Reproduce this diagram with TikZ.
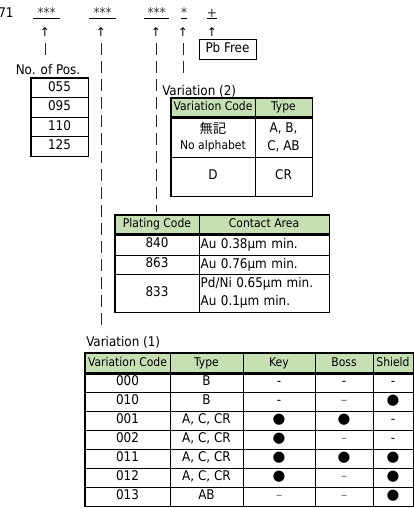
\documentclass[tikz,border=0pt]{standalone}
\usepackage{fontspec}
\setmainfont{DejaVu Sans Condensed}
\newfontfamily\cjkfont{Noto Sans CJK JP}
\newfontfamily\symfont{DejaVu Sans}
\definecolor{hdr}{HTML}{C6E0B4}
\newcommand\Cell[7]{\node[#6, minimum width={(#4-#2)*0.75pt}, minimum height={(#5-#3)*0.75pt}] (#1) at ({(#2+#4)/2},{(#3+#5)/2}) {#7};}
\newcommand\bul{{\symfont\fontsize{11}{11}\selectfont ●}}
\newcommand\hy{-}
\newcommand\en{{\color{black!60}–}}
\newcommand\VRow[8]{%
  \Cell{r#1c1}{85}{#2}{170}{#3}{cell1}{#4}
  \Cell{r#1c2}{170}{#2}{243}{#3}{cell1}{#5}
  \Cell{r#1c3}{243}{#2}{315}{#3}{cell1}{#6}
  \Cell{r#1c4}{315}{#2}{373}{#3}{cell1}{#7}
  \Cell{r#1c5}{373}{#2}{413}{#3}{cell1}{#8}}
\begin{document}
\begin{tikzpicture}[x=0.75pt,y=-0.75pt,
  txt/.style={inner sep=0, font=\fontsize{10}{12}\selectfont},
  star/.style={inner sep=0, anchor=base, text=black!80, font=\fontsize{10}{12}\selectfont},
  arr/.style={inner sep=0, font=\symfont\fontsize{9}{10}\selectfont},
  cellb/.style={draw, line width=0.75pt, inner sep=1pt, align=center, font=\fontsize{10}{13.5}\selectfont},
  cell1/.style={cellb, text height=7.2pt, text depth=2pt},
  hd/.style={cellb, fill=hdr, font=\fontsize{9}{10}\selectfont, text height=6.6pt, text depth=1.9pt},
  lcell/.style={cellb, align=left, text width=95pt, inner xsep=1.25pt},
  bar/.style={line width=0.75pt, black!85, dash pattern=on 9pt off 4.5pt},
  outer/.style={line width=1.1pt},
  hline/.style={line width=1.6pt}]
\useasboundingbox (0,0) rectangle (414,508);

% ---- top code line
\node[txt, anchor=base west] (pre) at (-2,17) {71};
\node[star, minimum width=20.25pt] (g1) at (46.5,17) {***};
\node[star, minimum width=20.25pt] (g2) at (102.5,17) {***};
\node[star, minimum width=18.75pt] (g3) at (156.5,17) {***};
\node[star, minimum width=4.5pt] (g4) at (184,17) {*};
\node[star, minimum width=7.5pt] (g5) at (212,17) {+};
\foreach \g in {g1,g2,g3,g4,g5}
  \draw[line width=0.75pt] ([yshift=-1.2pt]\g.base west) -- ([yshift=-1.2pt]\g.base east);

\node[arr] (a1) at (45,32) {↑};
\node[arr] (a2) at (101,32) {↑};
\node[arr] (a3) at (156,32) {↑};
\node[arr] (a4) at (183,32) {↑};
\node[arr] (a5) at (212,32) {↑};

% ---- Pb Free
\Cell{pb}{199}{39}{256}{59}{cell1}{Pb Free}

% ---- No. of Pos.
\node[txt] (pos) at (48,70) {No. of Pos.};
\Cell{p1}{31}{78}{88}{97.5}{cell1}{055}
\Cell{p2}{31}{97.5}{88}{117}{cell1}{095}
\Cell{p3}{31}{117}{88}{136.5}{cell1}{110}
\Cell{p4}{31}{136.5}{88}{156}{cell1}{125}
\draw[outer] (p1.north west) rectangle (p4.south east);

% ---- Variation (2)
\node[txt, anchor=west] (v2lab) at (162,91) {Variation (2)};
\Cell{v2h1}{171}{98}{255}{117}{hd}{Variation Code}
\Cell{v2h2}{255}{98}{312}{117}{hd}{Type}
\Cell{v2a1}{171}{117}{255}{157}{cellb}{{\cjkfont\fontsize{10}{11}\selectfont 無記}\\[-1pt]{\fontsize{9}{10}\selectfont No alphabet}}
\Cell{v2a2}{255}{117}{312}{157}{cellb}{A, B,\\C, AB}
\Cell{v2b1}{171}{157}{255}{196}{cell1}{D}
\Cell{v2b2}{255}{157}{312}{196}{cell1}{CR}
\draw[hline] (v2h1.south west) -- (v2h2.south east);
\draw[outer] (v2h1.north west) rectangle (v2b2.south east);

% ---- Plating
\Cell{ph1}{115}{215}{199}{234}{hd}{Plating Code}
\Cell{ph2}{199}{215}{329}{234}{hd}{Contact Area}
\Cell{pa1}{115}{234}{199}{255}{cell1}{840}
\Cell{pa2}{199}{234}{329}{255}{lcell}{Au 0.38µm min.}
\Cell{pb1}{115}{255}{199}{274}{cell1}{863}
\Cell{pb2}{199}{255}{329}{274}{lcell}{Au 0.76µm min.}
\Cell{pc1}{115}{274}{199}{312}{cell1}{833}
\Cell{pc2}{199}{274}{329}{312}{lcell}{Pd/Ni 0.65µm min.\\Au 0.1µm min.}
\draw[hline] (ph1.south west) -- (ph2.south east);
\draw[outer] (ph1.north west) rectangle (pc2.south east);

% ---- Variation (1)
\node[txt, anchor=west] (v1lab) at (86,342) {Variation (1)};
\Cell{h1}{85}{353}{170}{373}{hd}{Variation Code}
\Cell{h2}{170}{353}{243}{373}{hd}{Type}
\Cell{h3}{243}{353}{315}{373}{hd}{Key}
\Cell{h4}{315}{353}{373}{373}{hd}{Boss}
\Cell{h5}{373}{353}{413}{373}{hd}{Shield}
\VRow{1}{373}{392}{000}{B}{\hy}{\hy}{\hy}
\VRow{2}{392}{411}{010}{B}{\hy}{\en}{\bul}
\VRow{3}{411}{430}{001}{A, C, CR}{\bul}{\bul}{\hy}
\VRow{4}{430}{449}{002}{A, C, CR}{\bul}{\en}{\hy}
\VRow{5}{449}{468}{011}{A, C, CR}{\bul}{\bul}{\bul}
\VRow{6}{468}{487}{012}{A, C, CR}{\bul}{\en}{\bul}
\VRow{7}{487}{506}{013}{AB}{\en}{\en}{\bul}
\draw[hline] (h1.south west) -- (h5.south east);
\draw[outer] (h1.north west) rectangle (r7c5.south east);

% ---- vertical bar connectors
\draw[bar] (a1.center) ++(0,11) -- ++(0,12);
\draw[bar, shorten >=5pt] (a2.center) ++(0,11) -- (a2.center |- v1lab.north);
\draw[bar, shorten >=2pt] (a3.center) ++(0,11) -- (a3.center |- ph1.north);
\draw[bar, shorten >=5pt] (a4.center) ++(0,11) -- (a4.center |- v2lab.north);
\end{tikzpicture}
\end{document}
